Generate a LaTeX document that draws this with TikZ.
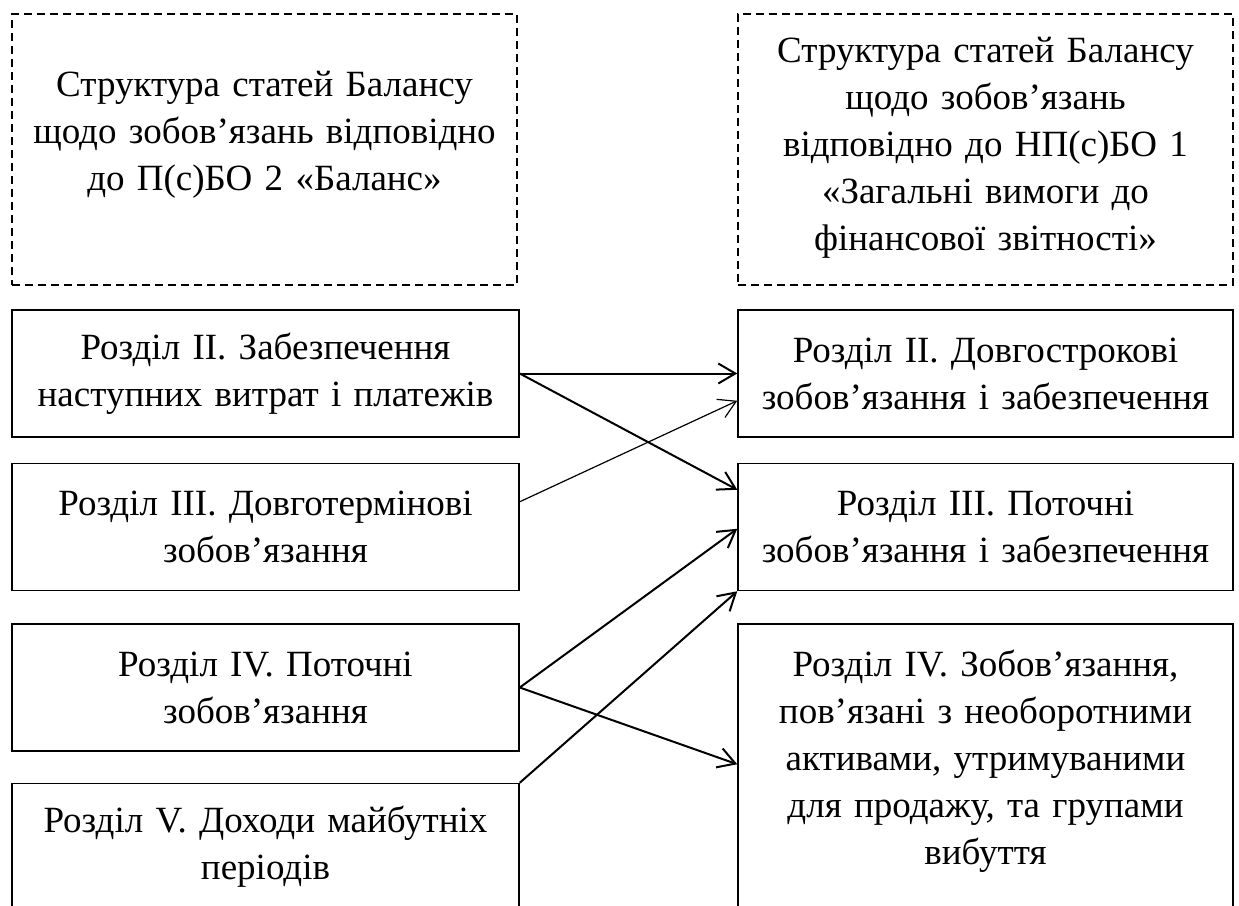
\documentclass[tikz,border=0pt]{standalone}
\usepackage{fontspec}
\setmainfont{Liberation Serif}
\usetikzlibrary{arrows.meta,calc}
\newcommand{\lowdepth}[1]{\rule[-#1]{0pt}{0pt}}
\begin{document}
\begin{tikzpicture}[x=1pt,y=-1pt,
  font=\fontsize{37}{47}\selectfont,
  lbox/.style={draw, line width=1.5pt, inner sep=0pt, align=center,
    minimum width=507pt, text width=495pt, minimum height=127pt},
  rbox/.style={draw, line width=1.5pt, inner sep=0pt, align=center,
    minimum width=495pt, text width=485pt, minimum height=127pt},
  hbox/.style={draw, line width=1.5pt, dash pattern=on 8pt off 5pt, inner sep=0pt, align=center,
    minimum height=271pt},
  conn/.style={line width=2pt, -{Straight Barb[length=17pt,width=20pt,line width=2pt]}},
  thinconn/.style={line width=1.2pt, -{Straight Barb[length=17pt,width=20pt,line width=1.2pt]}}
]
\useasboundingbox (0,0) rectangle (1239,905);
\clip (0,0) rectangle (1239,905);

\node[hbox, minimum width=505pt, text width=495pt] (hl) at (264.5,149.5)
  {Структура статей Балансу\\ щодо зобов’язань відповідно\\ до П(с)БО 2 «Баланс»\lowdepth{38pt}};
\node[hbox, minimum width=495pt, text width=485pt] (hr) at (985.5,149.5)
  {Структура статей Балансу\\ щодо зобов’язань\\ відповідно до НП(с)БО 1\\ «Загальні вимоги до\\ фінансової звітності»\lowdepth{12pt}};

\node[lbox] (l1) at (265.5,373.5) {Розділ II. Забезпечення\\ наступних витрат і платежів};
\node[lbox] (l2) at (265.5,527) {Розділ III. Довготермінові\\ зобов’язання};
\node[lbox] (l3) at (265.5,687.5) {Розділ IV. Поточні\\ зобов’язання};
\node[lbox] (l4) at (265.5,847) {Розділ V. Доходи майбутніх\\ періодів};

\node[rbox] (r1) at (985.5,373.5) {Розділ II. Довгострокові\\ зобов’язання і забезпечення};
\node[rbox] (r2) at (985.5,527) {Розділ III. Поточні\\ зобов’язання і забезпечення};
\node[rbox, minimum height=316pt] (r3) at (985.5,782)
  {Розділ IV. Зобов’язання,\\ пов’язані з необоротними\\ активами, утримуваними\\ для продажу, та групами\\ вибуття\lowdepth{50pt}};

\draw[conn] (l1.east) -- (r1.west);
\draw[conn] (l1.east) -- ($(r2.north west)+(0,27)$);
\draw[thinconn] ($(l2.north east)+(0,39)$) -- ($(r1.south west)+(0,-37)$);
\draw[conn] (l3.east) -- ($(r2.north west)+(0,66)$);
\draw[conn] (l3.east) -- ($(r3.north west)+(0,141)$);
\draw[conn] (l4.north east) -- (r2.south west);
\end{tikzpicture}
\end{document}
